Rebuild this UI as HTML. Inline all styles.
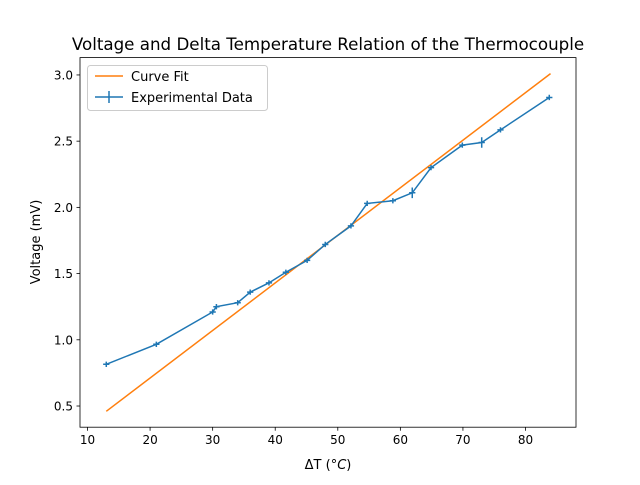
<!DOCTYPE html>
<html><head><meta charset="utf-8"><style>
body{margin:0;background:#fff}
svg text{font-family:"DejaVu Sans","Liberation Sans",sans-serif;fill:#000}
</style></head><body>
<svg id="chart" width="640" height="480" viewBox="0 0 640 480" xmlns="http://www.w3.org/2000/svg">
<rect width="640" height="480" fill="#fff"/>
<text x="328" y="50" font-size="16.7" text-anchor="middle">Voltage and Delta Temperature Relation of the Thermocouple</text>
<g id="plot"></g>
<text x="328" y="469" font-size="13" text-anchor="middle">ΔT (<tspan font-style="italic">°C</tspan>)</text>
<text transform="translate(40,242) rotate(-90)" font-size="13" text-anchor="middle">Voltage (mV)</text>
<g>
<rect x="87.5" y="65.5" width="180" height="45" rx="3" fill="#fff" fill-opacity="0.8" stroke="#ccc"/>
<line x1="95" y1="76" x2="123" y2="76" stroke="#ff7f0e" stroke-width="1.5"/>
<text x="131" y="81" font-size="13">Curve Fit</text>
<line x1="95" y1="97" x2="123" y2="97" stroke="#1f77b4" stroke-width="1.5"/>
<line x1="109" y1="91" x2="109" y2="103" stroke="#1f77b4" stroke-width="1.5"/>
<text x="131" y="102" font-size="13">Experimental Data</text>
</g>
</svg>
<script>
const xData=[13,21,30,30.6,34,36,39,41.7,45.1,48,52.1,54.7,58.8,61.9,64.9,69.9,73,76,83.8];
const yData=[0.815,0.966,1.21,1.25,1.28,1.36,1.43,1.51,1.60,1.72,1.86,2.03,2.05,2.11,2.30,2.47,2.49,2.585,2.83];
const xErr=[0.5,0.5,0.5,0.5,0.5,0.5,0.5,0.5,0.5,0.5,0.5,0.5,0.5,0.5,0.5,0.5,0.5,0.5,0.5];
const yErr=[0.02,0.02,0.02,0.02,0.02,0.02,0.02,0.02,0.02,0.02,0.02,0.02,0.02,0.04,0.02,0.02,0.04,0.02,0.02];
const fitX=[13,84];
const fitY=[0.46,3.01];
const xTicks=[10,20,30,40,50,60,70,80];
const yTicks=[0.5,1.0,1.5,2.0,2.5,3.0];
const L=80,R=576,T=57.6,B=427.2,x0=8.8,x1=88.07,y0=0.34,y1=3.131;
const sx=v=>L+(v-x0)/(x1-x0)*(R-L);
const sy=v=>B-(v-y0)/(y1-y0)*(B-T);
const NS="http://www.w3.org/2000/svg";
const g=document.getElementById('plot');
function mk(t,a){const e=document.createElementNS(NS,t);for(const k in a)e.setAttribute(k,a[k]);g.appendChild(e);return e;}
xTicks.forEach(v=>{
 const l=mk('line',{x1:sx(v),x2:sx(v),y1:B,y2:B+3.5,stroke:'#000','stroke-width':0.8});
 
 
 const t=mk('text',{x:sx(v),y:B+17,'font-size':12,'text-anchor':'middle'});t.textContent=v;
 
 
});
yTicks.forEach(v=>{
 const l=mk('line',{x1:L-3.5,x2:L,y1:sy(v),y2:sy(v),stroke:'#000','stroke-width':0.8});
 
 
 const t=mk('text',{x:L-7,y:sy(v)+4.5,'font-size':12,'text-anchor':'end'});t.textContent=v.toFixed(1);
 
 
});
const fit=mk('polyline',{points:fitX.map((v,i)=>sx(v)+','+sy(fitY[i])).join(' '),fill:'none',stroke:'#ff7f0e','stroke-width':1.5});


const dl=mk('polyline',{points:xData.map((v,i)=>sx(v)+','+sy(yData[i])).join(' '),fill:'none',stroke:'#1f77b4','stroke-width':1.5});


xData.forEach((v,i)=>{
 const e=mk('path',{d:`M${sx(v-xErr[i])},${sy(yData[i])}H${sx(v+xErr[i])}M${sx(v)},${sy(yData[i]-yErr[i])}V${sy(yData[i]+yErr[i])}`,stroke:'#1f77b4','stroke-width':1.5,fill:'none'});
 
 
});
const f=mk('rect',{x:L,y:T,width:R-L,height:B-T,fill:'none',stroke:'#000','stroke-width':0.8});


</script>
</body></html>
